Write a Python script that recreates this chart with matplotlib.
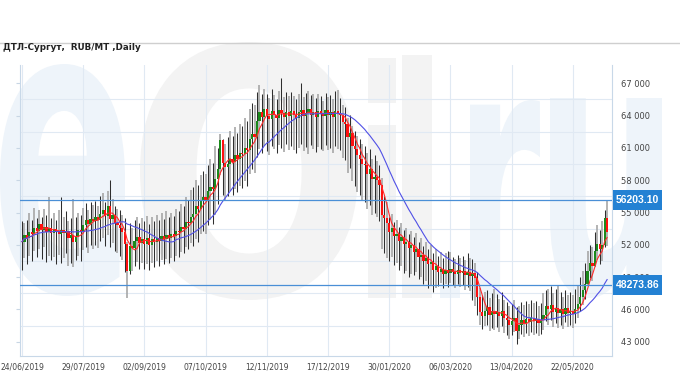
import matplotlib
matplotlib.use("Agg")
import matplotlib.pyplot as plt
import numpy as np
import pandas as pd
from matplotlib.textpath import TextPath
from matplotlib.patches import PathPatch, Rectangle
from matplotlib.font_manager import FontProperties
from matplotlib.transforms import Affine2D, IdentityTransform
from matplotlib.lines import Line2D
from matplotlib.ticker import FuncFormatter

# daily prices, thousand RUB/MT
close = [
    52.3, 52.9, 52.6, 53.2, 53.0, 53.6, 53.3, 53.9, 53.4, 53.7,
    53.2, 53.6, 53.1, 53.5, 53.3, 53.0, 53.4, 53.1, 53.3, 52.6,
    52.9, 52.3, 52.7, 53.4, 53.2, 53.8, 54.3, 53.9, 54.4, 54.2,
    54.6, 54.3, 54.9, 55.2, 54.7, 55.6, 54.4, 54.8, 54.0, 53.8,
    53.6, 53.2, 52.1, 49.6, 51.9, 51.7, 52.4, 52.7, 52.2, 52.5,
    52.1, 52.6, 52.0, 52.5, 52.3, 52.6, 52.4, 52.8, 52.5, 52.9,
    52.6, 53.0, 52.8, 53.3, 53.2, 53.7, 53.5, 54.1, 54.0, 54.6,
    54.9, 55.6, 55.3, 56.1, 56.4, 56.2, 57.0, 57.4, 57.2, 58.1,
    59.0, 61.7, 59.6, 59.2, 59.5, 60.0, 59.7, 60.3, 60.0, 60.5,
    60.4, 61.0, 60.8, 61.8, 62.3, 62.0, 63.5, 64.3, 63.9, 64.6,
    64.0, 63.7, 64.4, 64.1, 63.8, 64.5, 64.2, 63.9, 64.3, 64.0,
    64.4, 64.1, 63.8, 64.3, 64.5, 64.0, 64.2, 64.6, 64.1, 64.3,
    63.9, 64.4, 64.2, 64.0, 64.5, 64.1, 64.3, 63.9, 64.4, 64.2,
    64.1, 63.4, 63.2, 62.0, 62.4, 61.2, 60.9, 60.3, 60.0, 59.5,
    59.4, 58.6, 59.0, 58.1, 58.3, 58.0, 57.6, 54.8, 54.5, 54.0,
    53.2, 53.6, 52.8, 53.0, 52.4, 52.7, 52.1, 52.3, 51.7, 52.0,
    51.3, 51.6, 50.9, 51.1, 50.5, 50.8, 50.2, 50.4, 49.7, 50.0,
    49.5, 49.8, 49.3, 49.7, 49.4, 49.8, 49.5, 49.3, 49.7, 49.4,
    49.6, 49.2, 49.5, 49.1, 49.4, 48.9, 47.2, 45.8, 45.4, 45.9,
    46.2, 45.5, 45.9, 45.6, 45.8, 45.4, 45.9, 45.2, 45.0, 44.6,
    44.9, 45.2, 44.0, 44.6, 45.0, 44.7, 45.1, 44.8, 45.2, 44.9,
    45.1, 44.7, 45.0, 45.5, 46.3, 46.0, 46.4, 45.8, 46.1, 45.7,
    46.0, 45.6, 46.1, 45.7, 45.9, 45.6, 46.0, 46.5, 47.2, 47.8,
    48.4, 49.6, 50.3, 50.0, 51.4, 52.1, 51.6, 52.0, 54.5, 53.2,
]
high = [
    54.2, 54.0, 54.3, 55.0, 54.3, 55.4, 54.5, 55.2, 54.6, 55.3,
    54.8, 56.4, 54.5, 55.0, 54.3, 55.2, 56.4, 54.6, 55.1, 54.2,
    54.5, 56.3, 54.6, 55.0, 54.8, 55.4, 55.9, 55.2, 56.0, 55.7,
    56.1, 55.6, 56.5, 56.8, 56.0, 57.0, 58.0, 56.3, 55.6, 55.3,
    55.2, 54.8, 54.5, 52.3, 54.0, 53.6, 54.3, 54.6, 54.0, 54.5,
    54.2, 54.7, 53.9, 54.6, 54.2, 54.8, 54.3, 55.0, 54.4, 55.1,
    54.6, 55.0, 54.7, 55.3, 55.1, 55.8, 55.6, 56.4, 56.2, 57.1,
    57.4, 58.0, 57.6, 58.5, 58.9, 58.6, 59.4, 60.0, 59.6, 61.2,
    61.0, 62.3, 61.8, 61.4, 62.0, 62.6, 62.1, 62.9, 62.4, 63.2,
    63.0, 63.8, 63.5, 64.6, 65.2, 65.0, 66.2, 66.8, 66.0, 66.5,
    66.0, 65.6, 66.5, 65.9, 65.5, 66.3, 67.5, 65.7, 66.2, 65.8,
    66.2, 65.8, 65.5, 66.0, 67.0, 65.7, 66.1, 66.3, 65.9, 66.0,
    65.6, 66.0, 65.8, 65.4, 66.1, 65.7, 65.9, 65.5, 66.3, 66.4,
    65.6, 65.0, 64.8, 63.8, 64.1, 63.0, 62.6, 62.1, 61.8, 61.4,
    61.2, 60.5, 60.9, 60.0, 60.3, 59.8, 59.4, 58.2, 56.5, 56.0,
    54.6, 54.9, 54.1, 54.3, 53.7, 54.0, 53.4, 53.6, 53.0, 53.3,
    52.7, 53.1, 52.3, 52.6, 51.9, 52.3, 51.6, 52.0, 51.2, 51.6,
    51.0, 51.3, 50.8, 51.2, 51.4, 51.3, 50.9, 50.7, 51.1, 50.8,
    51.0, 50.6, 51.2, 50.8, 50.7, 50.3, 49.5, 48.0, 47.3, 47.6,
    47.8, 47.1, 47.5, 47.9, 47.4, 47.0, 47.6, 46.9, 46.7, 46.3,
    46.5, 46.9, 46.2, 46.3, 46.7, 46.4, 46.8, 46.5, 46.9, 46.6,
    46.8, 46.3, 46.6, 47.5, 47.8, 47.9, 48.2, 47.5, 47.9, 48.3,
    47.6, 47.2, 47.8, 47.3, 47.6, 47.3, 47.9, 48.3, 49.0, 49.6,
    50.3, 51.4, 52.0, 51.8, 53.2, 53.8, 53.4, 54.2, 55.2, 56.2,
]
low = [
    49.7, 50.8, 50.2, 51.0, 50.5, 51.4, 50.9, 51.6, 50.7, 51.8,
    50.4, 51.0, 50.6, 50.9, 50.2, 51.1, 50.3, 50.8, 51.2, 50.0,
    50.3, 49.9, 50.6, 51.0, 50.5, 51.5, 51.8, 51.2, 52.0, 51.6,
    52.0, 51.7, 52.4, 52.6, 51.9, 52.9, 51.8, 52.2, 51.4, 51.2,
    51.0, 50.6, 49.5, 47.1, 49.3, 49.6, 50.0, 50.4, 49.8, 50.3,
    49.8, 50.2, 49.7, 50.3, 49.9, 50.5, 50.0, 50.6, 50.2, 50.7,
    50.3, 50.8, 50.5, 51.0, 50.9, 51.3, 51.2, 51.8, 51.6, 52.2,
    51.9, 52.5, 52.3, 53.0, 53.3, 53.0, 53.8, 54.3, 53.9, 54.8,
    55.8, 58.5, 56.6, 56.2, 56.5, 57.0, 56.6, 57.2, 56.9, 57.5,
    57.3, 57.9, 57.5, 58.6, 59.0, 58.7, 60.2, 60.9, 60.5, 61.2,
    60.7, 60.3, 61.2, 60.9, 60.5, 61.3, 61.0, 60.6, 61.4, 60.8,
    61.2, 60.8, 60.5, 61.0, 61.4, 60.7, 61.1, 60.4, 61.3, 60.9,
    60.6, 61.1, 60.9, 60.7, 61.3, 60.8, 61.0, 60.5, 61.2, 60.9,
    60.8, 60.1, 59.9, 58.7, 59.1, 57.9, 57.5, 56.9, 56.6, 56.2,
    56.0, 55.3, 55.7, 54.8, 55.0, 54.6, 54.2, 51.6, 51.2, 50.8,
    50.5, 50.9, 50.1, 50.3, 49.7, 50.0, 49.4, 49.6, 49.0, 49.3,
    49.2, 49.5, 48.8, 49.0, 48.4, 48.6, 48.0, 48.2, 47.6, 48.0,
    48.2, 48.5, 48.0, 48.4, 48.1, 48.5, 48.3, 48.0, 48.4, 48.1,
    48.3, 47.8, 48.1, 47.7, 46.9, 46.3, 45.5, 44.6, 44.2, 44.5,
    44.6, 44.0, 44.3, 44.1, 44.4, 43.9, 44.5, 43.8, 43.6, 43.3,
    43.6, 43.9, 42.8, 43.3, 43.7, 43.4, 43.8, 43.5, 43.9, 43.6,
    43.8, 43.5, 43.7, 44.1, 44.9, 44.6, 45.0, 44.4, 44.7, 44.3,
    44.6, 44.2, 44.8, 44.4, 44.6, 44.3, 44.7, 45.2, 45.9, 46.4,
    47.0, 48.2, 48.9, 48.6, 50.0, 50.6, 50.2, 50.5, 51.8, 51.9,
]
date_labels = ["24/06/2019", "29/07/2019", "02/09/2019", "07/10/2019", "12/11/2019",
               "17/12/2019", "30/01/2020", "06/03/2020", "13/04/2020", "22/05/2020"]
levels = [56203.10, 48273.86]
title = "ДТЛ-Сургут,  RUB/MT ,Daily"

W, H = 680, 380
fig = plt.figure(figsize=(W / 100, H / 100), dpi=100)
fig.patch.set_facecolor("white")


def watermark(ch, x0, x1, ytop, ybot, color):
    # stretch a glyph into a pixel box (y measured from top)
    tp = TextPath((0, 0), ch, size=100, prop=FontProperties(family="DejaVu Sans", weight="bold"))
    ext = tp.get_extents()
    tr = (Affine2D().translate(-ext.x0, -ext.y0)
          .scale((x1 - x0) / ext.width, (ybot - ytop) / ext.height)
          .translate(x0, H - ybot))
    fig.add_artist(PathPatch(tr.transform_path(tp), facecolor=color, edgecolor="none",
                             transform=IdentityTransform(), zorder=-10))


wm_blue, wm_gray = "#eef4fa", "#f3f3f3"
watermark("e", 0, 125, 64, 296, wm_blue)
watermark("O", 140, 358, 42, 300, wm_gray)
watermark("i", 368, 396, 58, 298, wm_gray)
watermark("l", 402, 432, 55, 298, wm_gray)
watermark(".", 440, 460, 270, 298, wm_blue)
watermark("r", 470, 540, 100, 298, wm_blue)
watermark("u", 550, 662, 98, 298, wm_blue)

fig.add_artist(Line2D([0, 1], [1 - 43 / H] * 2, color="#cfcfcf", lw=1))
fig.text(3 / W, 1 - 48 / H, title, fontsize=6.3, weight="bold", va="center", color="#222222")

ax = fig.add_axes([20 / W, 1 - 356 / H, 592 / W, 291 / H])
ax.set_facecolor("none")

c = np.array(close) * 1000
hi = np.array(high) * 1000
lo = np.array(low) * 1000
op = pd.Series(c).shift(1).fillna(c[0]).values
x = np.arange(len(c))

ax.vlines(x[1::2], lo[1::2], hi[1::2], color="#a3a3a3", lw=1.15, zorder=2)
ax.vlines(x[::2], lo[::2], hi[::2], color="#2e2e2e", lw=0.75, zorder=2)
body_col = np.where(c >= op, "#1b8a1b", "#ff1010")
ax.bar(x, c - op, bottom=op, width=0.9, color=body_col, zorder=3)

ma_fast = pd.Series(c).rolling(5, min_periods=1).mean()
ma_slow = pd.Series(c).rolling(20, min_periods=1).mean()
ax.plot(x, ma_fast, color="#ff2a2a", lw=0.8, zorder=4)
ax.plot(x, ma_slow, color="#5050e6", lw=0.8, zorder=4)

for lv in levels:
    ax.axhline(lv, color="#4a8fd6", lw=0.9, zorder=5)
    ax.add_patch(Rectangle((1.0017, lv - 930), 0.0828, 1860, transform=ax.get_yaxis_transform(),
                           facecolor="#2381d3", edgecolor="none", clip_on=False, zorder=10))
    ax.text(1.043, lv, f"{lv:.2f}", transform=ax.get_yaxis_transform(), ha="center", va="center",
            color="white", fontsize=7.5, weight="bold", family="Liberation Sans", zorder=11)

ax.set_xlim(-0.8, 241)
ax.set_ylim(41680, 68700)

ax.set_xticks(np.arange(len(date_labels)) * 25)
ax.set_xticklabels(date_labels)
ax.set_yticks(np.arange(43000, 67001, 3000))
ax.set_yticks(np.arange(44500, 68000, 3000), minor=True)
ax.yaxis.set_major_formatter(FuncFormatter(lambda v, p: f"{int(v):,}".replace(",", " ")))

ax.tick_params(axis="x", length=0, pad=5, labelsize=5.5, labelcolor="#444444")
ax.tick_params(axis="y", which="major", left=True, right=False, labelleft=False, labelright=True,
               length=3, color="#c8d6e4", pad=3.5, labelsize=6, labelcolor="#444444")
ax.tick_params(axis="y", which="minor", length=0)
ax.grid(axis="x", which="major", color="#e0e9f3", lw=0.8, zorder=0)
ax.grid(axis="y", which="minor", color="#e0e9f3", lw=0.8, zorder=0)
ax.set_axisbelow(True)

for side in ["left", "bottom", "right"]:
    ax.spines[side].set_color("#c8d8e8")
ax.spines["top"].set_visible(False)

fig.savefig("out.png", dpi=100, facecolor="white")
